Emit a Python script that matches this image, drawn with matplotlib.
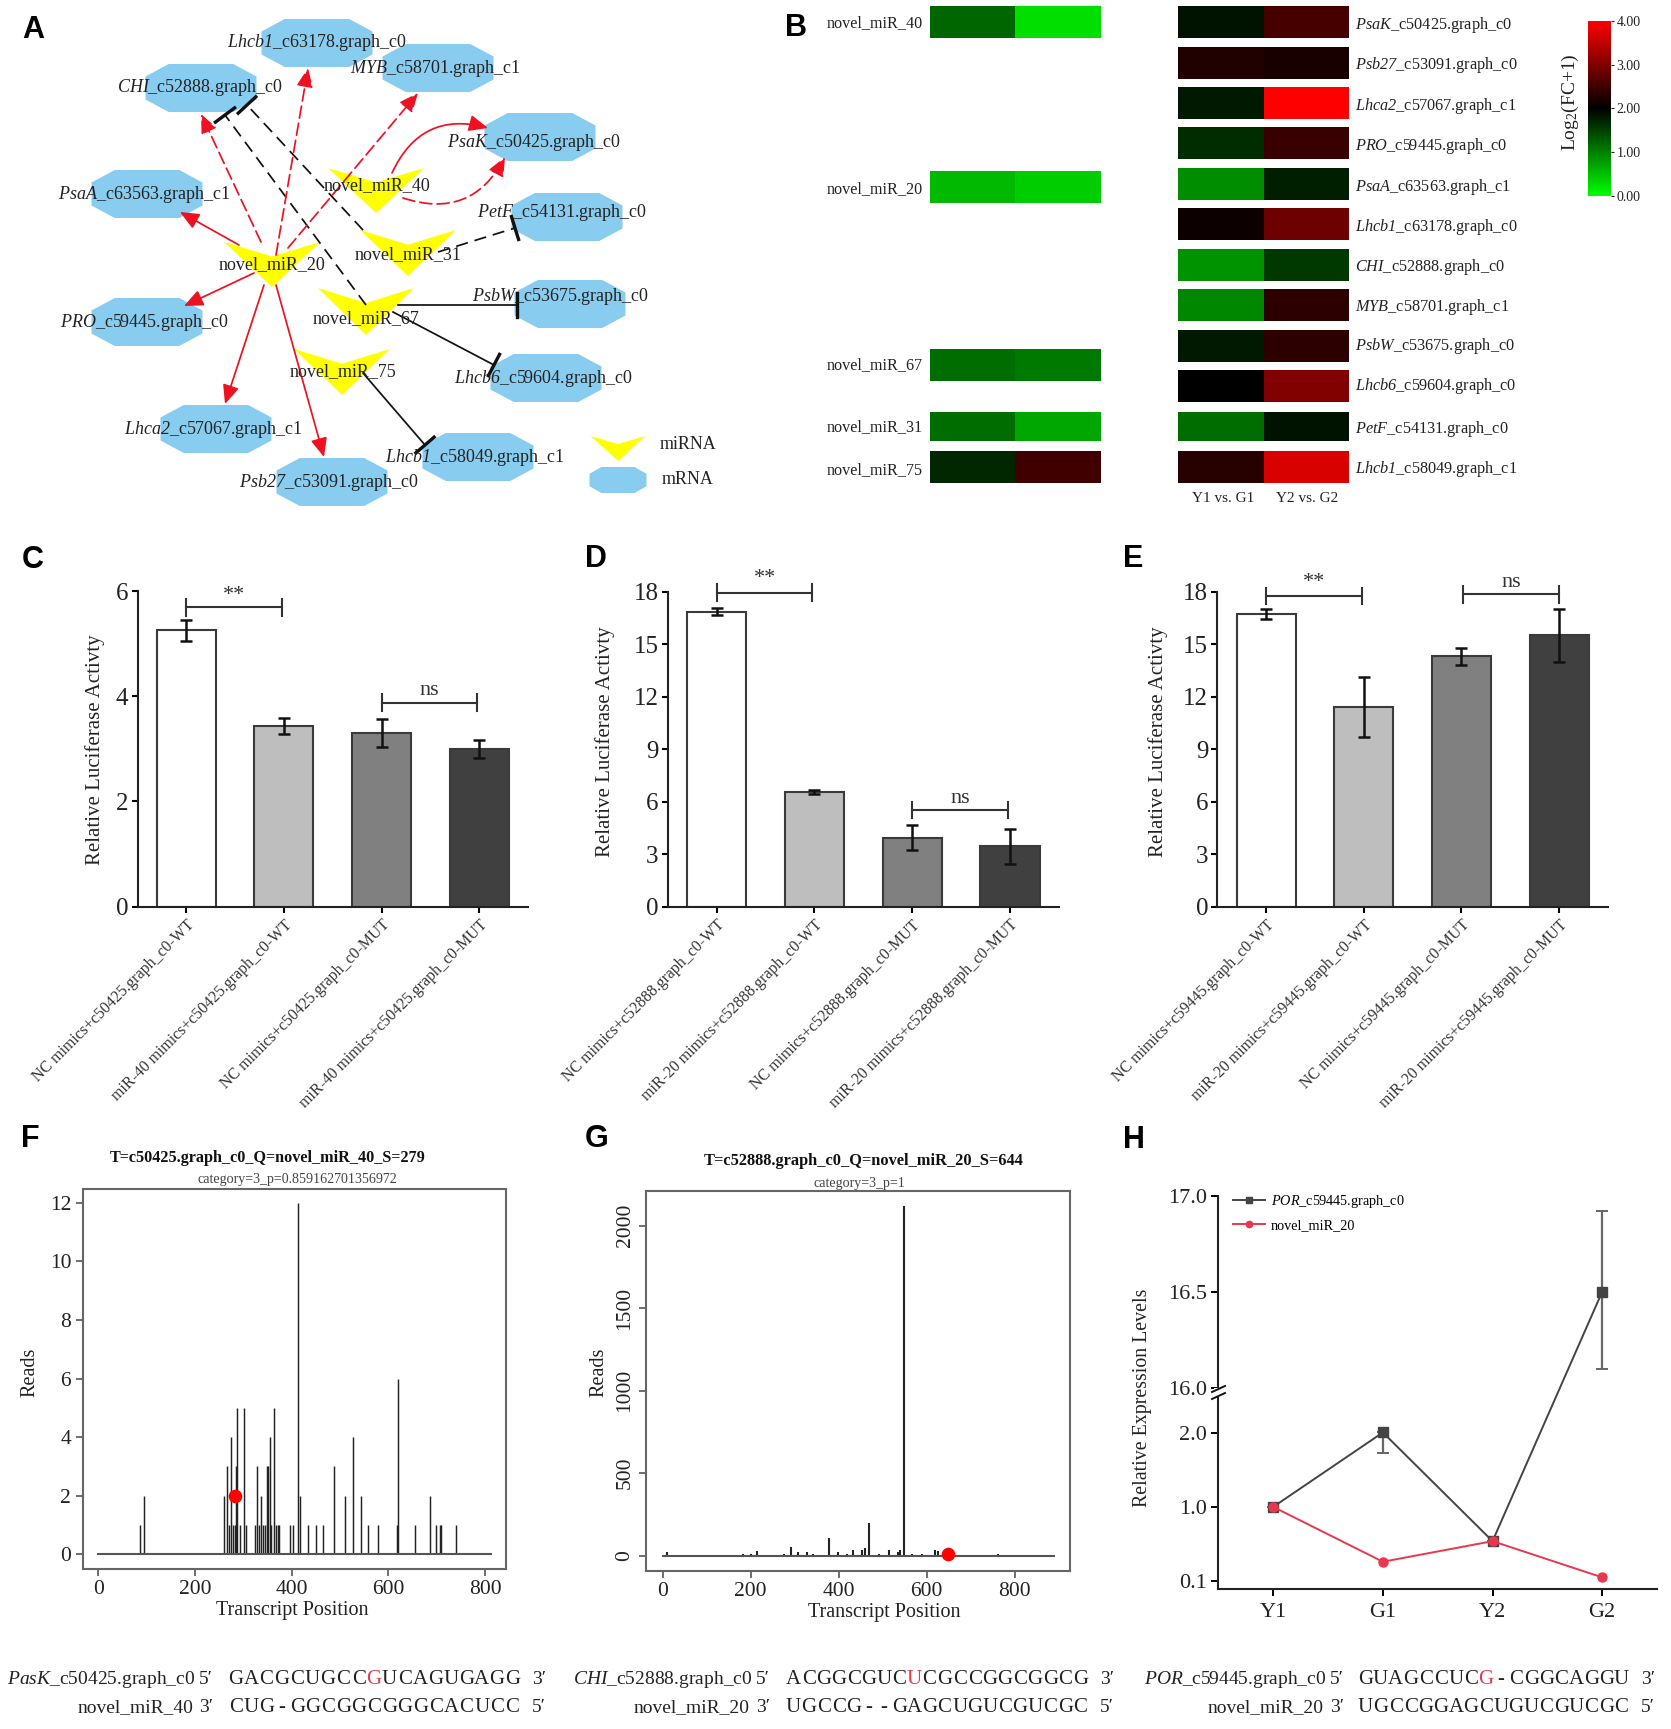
import numpy as np
import matplotlib
matplotlib.use('Agg')
import matplotlib.pyplot as plt
from matplotlib.colors import LinearSegmentedColormap
from matplotlib.patches import Polygon

plt.rcParams['font.family'] = ['Liberation Serif', 'DejaVu Serif']
plt.rcParams['mathtext.fontset'] = 'custom'
plt.rcParams['mathtext.it'] = 'Liberation Serif:italic'
plt.rcParams['mathtext.cal'] = 'Liberation Serif:italic'
plt.rcParams['mathtext.rm'] = 'Liberation Serif'
plt.rcParams['axes.unicode_minus'] = False

W, H = 1671, 1729

# panel A, network
mrna_names = ['Lhcb1', 'MYB', 'CHI', 'PsaK', 'PsaA', 'PetF', 'PsbW', 'PRO', 'Lhcb6', 'Lhca2', 'Lhcb1', 'Psb27']
mrna_ids = ['c63178.graph_c0', 'c58701.graph_c1', 'c52888.graph_c0', 'c50425.graph_c0', 'c63563.graph_c1',
            'c54131.graph_c0', 'c53675.graph_c0', 'c59445.graph_c0', 'c59604.graph_c0', 'c57067.graph_c1',
            'c58049.graph_c1', 'c53091.graph_c0']
mrna_x = [317, 438, 201, 540, 147, 567, 570, 147, 546, 216, 478, 332]
mrna_y = [43, 68, 88, 137, 194, 217, 304, 322, 378, 429, 457, 482]
mrna_label_x = [317, 435, 200, 534, 144, 562, 560, 144, 543, 213, 475, 329]
mrna_label_y = [42, 68, 87, 142, 194, 212, 296, 322, 378, 429, 457, 482]

mir_names = ['novel_miR_40', 'novel_miR_31', 'novel_miR_20', 'novel_miR_67', 'novel_miR_75']
mir_x = [376, 408, 272, 366, 342]
mir_top = [168, 230, 242, 288, 349]
mir_tip = [213, 276, 287, 335, 395]
mir_label_x = [377, 408, 272, 366, 343]
mir_label_y = [186, 255, 265, 319, 372]

red_solid = [(239, 245, 180, 212), (254, 273, 184, 306), (264, 285, 225, 404), (276, 285, 324, 457)]
red_dash = [(261, 242, 201, 114), (276, 255, 308, 68), (288, 248, 418, 93)]
black_dash = [(366, 305, 225, 115), (363, 230, 247, 105), (438, 252, 515, 228)]
black_solid = [(398, 305, 517, 305), (393, 312, 494, 365), (363, 373, 425, 445)]

# panel B, heat map
left_names = ['novel_miR_40', 'novel_miR_20', 'novel_miR_67', 'novel_miR_31', 'novel_miR_75']
left_values = [[1.2, 0.25], [0.55, 0.4], [1.15, 1.05], [1.15, 0.7], [1.7, 2.5]]
left_top = [6, 171, 349, 412, 451]
left_bottom = [38, 203, 381, 441, 483]
left_text_y = [23, 189, 365, 427, 470]

right_names = ['PsaK', 'Psb27', 'Lhca2', 'PRO', 'PsaA', 'Lhcb1', 'CHI', 'MYB', 'PsbW', 'Lhcb6', 'PetF', 'Lhcb1']
right_ids = ['c50425.graph_c0', 'c53091.graph_c0', 'c57067.graph_c1', 'c59445.graph_c0', 'c63563.graph_c1',
             'c63178.graph_c0', 'c52888.graph_c0', 'c58701.graph_c1', 'c53675.graph_c0', 'c59604.graph_c0',
             'c54131.graph_c0', 'c58049.graph_c1']
right_values = [[1.85, 2.55], [2.25, 2.2], [1.8, 4.0], [1.65, 2.45], [0.9, 1.75], [2.1, 2.85],
                [0.85, 1.55], [0.95, 2.35], [1.8, 2.35], [2.0, 3.0], [1.15, 1.85], [2.3, 3.7]]
right_top = [6, 47, 87, 127, 168, 208, 249, 289, 330, 370, 412, 451]
right_bottom = [38, 79, 119, 159, 200, 240, 281, 321, 362, 402, 441, 483]
right_text_y = [25, 65, 106, 146, 187, 227, 267, 307, 346, 386, 429, 469]

# panels C, D, E, bars
bar_colors = ['#FFFFFF', '#BEBEBE', '#808080', '#404040']
c_values = [5.25, 3.43, 3.3, 3.0]
c_errors = [0.2, 0.15, 0.27, 0.17]
d_values = [16.85, 6.55, 3.95, 3.45]
d_errors = [0.2, 0.1, 0.7, 1.0]
e_values = [16.72, 11.4, 14.3, 15.5]
e_errors = [0.3, 1.7, 0.47, 1.5]
c_labels = ['NC mimics+c50425.graph_c0-WT', 'miR-40 mimics+c50425.graph_c0-WT',
            'NC mimics+c50425.graph_c0-MUT', 'miR-40 mimics+c50425.graph_c0-MUT']
d_labels = ['NC mimics+c52888.graph_c0-WT', 'miR-20 mimics+c52888.graph_c0-WT',
            'NC mimics+c52888.graph_c0-MUT', 'miR-20 mimics+c52888.graph_c0-MUT']
e_labels = ['NC mimics+c59445.graph_c0-WT', 'miR-20 mimics+c59445.graph_c0-WT',
            'NC mimics+c59445.graph_c0-MUT', 'miR-20 mimics+c59445.graph_c0-MUT']

# panel F, reads
f_pos = [87, 94.5, 261, 266, 270, 275, 278, 282, 284, 286.5, 293, 302, 305, 325, 329, 332, 337.5, 341, 345, 349,
         352, 355, 358, 364, 367, 371, 374, 396.6, 402.5, 413.6, 417, 433.5, 451, 465, 487, 510, 528, 544, 558,
         579, 618, 621, 655, 686, 699, 706, 708, 740]
f_reads = [1, 2, 2, 3, 1, 4, 1, 1, 3, 5, 1, 5, 1, 1, 3, 1, 2, 1, 1, 3,
           3, 4, 1, 5, 1, 1, 1, 1, 1, 12, 2, 1, 1, 1, 3, 2, 4, 2, 1,
           1, 1, 6, 1, 2, 1, 1, 1, 1]
# panel G, reads
g_pos = [11, 55, 149, 184, 200, 214, 237, 276, 292, 309, 328, 343, 378, 398, 419, 434, 453, 461, 470, 491, 515,
         536, 540, 549, 567, 589, 620, 625, 762]
g_reads = [25, 5, 5, 8, 12, 30, 6, 10, 55, 25, 25, 8, 110, 20, 12, 35, 35, 45, 200, 8, 35,
           25, 35, 2120, 8, 12, 35, 30, 8]

# panel H, expression
h_groups = ['Y1', 'G1', 'Y2', 'G2']
h_por = [1.0, 2.02, 0.585, 16.5]
h_por_err_low = [0, 0.3, 0, 0.4]
h_por_err_high = [0, 0.28, 0, 0.42]
h_mir = [1.0, 0.336, 0.585, 0.147]
h_ticks = [0.1, 1.0, 2.0, 16.0, 16.5, 17.0]

# sequences under F, G, H
seq_rows = [
    ('$\\mathcal{PasK}$_c50425.graph_c0', 'GACGCUGCCGUCAGUGAGG', 'novel_miR_40', 'CUG-GGCGGCGGGCACUCC', 9, 195, 228, 15.38),
    ('$\\mathcal{CHI}$_c52888.graph_c0', 'ACGGCGUCUCGCCGGCGGCG', 'novel_miR_20', 'UGCCG--GAGCUGUCGUCGC', 8, 752, 786, 15.1),
    ('$\\mathcal{POR}$_c59445.graph_c0', 'GUAGCCUCG-CGGCAGGU', 'novel_miR_20', 'UGCCGGAGCUGUCGUCGC', 8, 1326, 1358, 15.06),
]

fig = plt.figure(figsize=(W / 100, H / 100), dpi=100, facecolor='white')


def px_axes(left, top, right, bottom, **kw):
    return fig.add_axes([left / W, 1 - bottom / H, (right - left) / W, (bottom - top) / H], **kw)


# full figure layer in pixels, for the network, the heat map and loose text
page = px_axes(0, 0, W, H)
page.set_xlim(0, W)
page.set_ylim(H, 0)
page.axis('off')
page.set_zorder(5)
page.patch.set_alpha(0)


def octagon(x, y, w=111, h=48, **kw):
    pts = [(-.5, -.24), (-.29, -.5), (.29, -.5), (.5, -.24), (.5, .24), (.29, .5), (-.29, .5), (-.5, .24)]
    page.add_patch(Polygon([(x + a * w, y + b * h) for a, b in pts], closed=True, fc='#88CDF0', ec='none', **kw))


def chevron(x, top, tip, w=96):
    notch = top + (tip - top) * 0.32
    page.add_patch(Polygon([(x - w / 2, top), (x, notch), (x + w / 2, top), (x, tip)], closed=True, fc='#FFFF00', ec='none'))


def arrow(x0, y0, x1, y1, ls='-', rad=0.0):
    page.annotate('', xy=(x1, y1), xytext=(x0, y0),
                  arrowprops=dict(arrowstyle='-|>,head_length=1.15,head_width=0.5', mutation_scale=10, color='#EE1122',
                                  lw=1.25, ls=ls, shrinkA=0, shrinkB=0, connectionstyle='arc3,rad=%g' % rad))


def tee(x0, y0, x1, y1, ls='-'):
    page.plot([x0, x1], [y0, y1], color='#111111', lw=1.25, ls=ls)
    dx, dy = x1 - x0, y1 - y0
    n = np.hypot(dx, dy)
    page.plot([x1 - dy / n * 12, x1 + dy / n * 12], [y1 + dx / n * 12, y1 - dx / n * 12], color='#111111', lw=2.4)


for x, y in zip(mrna_x, mrna_y):
    octagon(x, y)
for x, t, b in zip(mir_x, mir_top, mir_tip):
    chevron(x, t, b)
for e in red_solid:
    arrow(*e)
for e in red_dash:
    arrow(*e, ls=(0, (7, 3)))
arrow(392, 173, 488, 128, rad=-0.42)
arrow(403, 198, 505, 157, ls=(0, (7, 3)), rad=0.42)
for e in black_dash:
    tee(*e, ls=(0, (7, 4)))
for e in black_solid:
    tee(*e)
for name, mid, x, y in zip(mrna_names, mrna_ids, mrna_label_x, mrna_label_y):
    page.text(x, y, '$\\mathcal{%s}$_%s' % (name, mid), ha='center', va='center', fontsize=13, color='#222222')
for name, x, y in zip(mir_names, mir_label_x, mir_label_y):
    page.text(x, y, name, ha='center', va='center', fontsize=13, color='#222222')
chevron(618, 436, 461, w=55)
octagon(618, 480, w=57, h=26)
page.text(660, 444, 'miRNA', va='center', fontsize=13, color='#222222')
page.text(662, 479, 'mRNA', va='center', fontsize=13, color='#222222')

# heat map
gyr = LinearSegmentedColormap.from_list('gyr', ['#00FF00', '#000000', '#FF0000'])
for vals, t, b in zip(left_values, left_top, left_bottom):
    page.pcolormesh([929.5, 1015, 1101], [t, b], [vals], cmap=gyr, vmin=0, vmax=4)
for name, y in zip(left_names, left_text_y):
    page.text(923, y, name, ha='right', va='center', fontsize=11.6, color='#222222')
for vals, t, b in zip(right_values, right_top, right_bottom):
    mesh = page.pcolormesh([1178, 1263.5, 1349], [t, b], [vals], cmap=gyr, vmin=0, vmax=4)
for name, mid, y in zip(right_names, right_ids, right_text_y):
    page.text(1355, y, '$\\mathcal{%s}$_%s' % (name, mid), va='center', fontsize=11.7, color='#222222')
page.text(1223, 498, 'Y1 vs. G1', ha='center', va='center', fontsize=11, color='#222222')
page.text(1307, 498, 'Y2 vs. G2', ha='center', va='center', fontsize=11, color='#222222')
page.set_xlim(0, W)
page.set_ylim(H, 0)

cax = px_axes(1587.5, 20.7, 1610.7, 196)
cb = fig.colorbar(mesh, cax=cax, ticks=[0, 1, 2, 3, 4], format='%.2f')
cb.outline.set_visible(False)
cax.tick_params(labelsize=10, length=2, width=0.8, pad=2, colors='#222222')
page.text(1570, 102, 'Log$_2$(FC+1)', rotation=90, ha='center', va='center', fontsize=14, color='#222222')


def bar_panel(box, values, errors, labels, ymax, yticks, brackets, label_x, label_y):
    ax = px_axes(*box)
    ax.bar(range(4), values, width=0.605, color=bar_colors, edgecolor='#3A3A3A', linewidth=1.5)
    ax.errorbar(range(4), values, yerr=errors, fmt='none', ecolor='#111111', elinewidth=1.8, capsize=4, capthick=1.8)
    ax.set_xlim(-0.5, 3.5)
    ax.set_ylim(0, ymax)
    ax.spines[['top', 'right']].set_visible(False)
    ax.spines[['left', 'bottom']].set_linewidth(1.5)
    ax.spines[['left', 'bottom']].set_color('#222222')
    ax.set_yticks(yticks)
    ax.tick_params(axis='y', labelsize=18, length=4.5, width=1.5, pad=2, labelcolor='#222222')
    ax.set_xticks(range(4))
    ax.set_xticklabels(labels, rotation=45, ha='right', rotation_mode='anchor', fontsize=11.4, color='#333333')
    ax.tick_params(axis='x', length=4.5, width=1.5, pad=3)
    for x0, x1, y, txt, ty in brackets:
        ax.plot([x0, x1], [y, y], color='#333333', lw=1.5, clip_on=False)
        for x in (x0, x1):
            ax.plot([x, x], [y - ymax * 0.026, y + ymax * 0.026], color='#333333', lw=1.5, clip_on=False)
        ax.text((x0 + x1) / 2, ty, txt, ha='center', va='center', fontsize=16, color='#333333', clip_on=False)
    page.text(label_x, label_y, 'Relative Luciferase Activty', rotation=90, ha='center', va='center', fontsize=15, color='#222222')


bar_panel((137.5, 591, 528, 906.7), c_values, c_errors, c_labels, 6, [0, 2, 4, 6],
          [(0, 0.98, 5.69, '**', 5.92), (2, 2.98, 3.88, 'ns', 4.1)], 94.6, 750)
bar_panel((667.7, 591.7, 1059, 906.7), d_values, d_errors, d_labels, 18, [0, 3, 6, 9, 12, 15, 18],
          [(0, 0.98, 17.95, '**', 18.75), (2, 2.98, 5.52, 'ns', 6.2)], 605, 742)
bar_panel((1217.3, 591.7, 1608, 906.7), e_values, e_errors, e_labels, 18, [0, 3, 6, 9, 12, 15, 18],
          [(0, 0.98, 17.75, '**', 18.5), (2.02, 3, 17.85, 'ns', 18.5)], 1158, 742)


def reads_panel(box, xlim, ylim, pos, reads, dot, yticks, rotate, lw):
    ax = px_axes(*box)
    ax.vlines(pos, 0, reads, color='#222222', lw=lw)
    ax.plot(xlim[2], [0, 0], color='#555555', lw=1.5)
    ax.plot(*dot, 'o', color='#FF0000', ms=8.8, zorder=5)
    ax.set_xlim(xlim[0], xlim[1])
    ax.set_ylim(ylim)
    ax.set_xticks([0, 200, 400, 600, 800])
    ax.set_yticks(yticks)
    for s in ax.spines.values():
        s.set_color('#666666')
        s.set_linewidth(1.5)
    ax.tick_params(length=5, width=1.2, color='#555555', labelsize=15.5, labelcolor='#222222')
    if rotate:
        ax.tick_params(axis='y', labelrotation=90)
        for t in ax.get_yticklabels():
            t.set_va('center')
    return ax


reads_panel((83, 1189, 506, 1568.6), (-31.4, 843.4, [0, 812]), (-0.49, 12.47), f_pos, f_reads, (283, 2),
            [0, 2, 4, 6, 8, 10, 12], False, 1.05)
reads_panel((646.4, 1191, 1070, 1570.5), (-36.6, 926, [0, 890]), (-89.6, 2210), g_pos, g_reads, (648, 8),
            [0, 500, 1000, 1500, 2000], True, 1.5)

page.text(268, 1158, 'T=c50425.graph_c0_Q=novel_miR_40_S=279', ha='center', va='center', fontsize=11.7, fontweight='bold', color='#111111')
page.text(297, 1180, 'category=3_p=0.859162701356972', ha='center', va='center', fontsize=10.1, color='#444444')
page.text(864, 1161, 'T=c52888.graph_c0_Q=novel_miR_20_S=644', ha='center', va='center', fontsize=11.8, fontweight='bold', color='#111111')
page.text(859, 1184, 'category=3_p=1', ha='center', va='center', fontsize=10.1, color='#444444')
for x, y in [(292, 1611), (884, 1613)]:
    page.text(x, y, 'Transcript Position', ha='center', va='center', fontsize=14.5, color='#222222')
for x in (30, 599):
    page.text(x, 1372, 'Reads', rotation=90, ha='center', va='center', fontsize=14.5, color='#222222')

# panel H, one axes with a broken scale
h_v = [-0.8, 0.1, 1.0, 2.0, 16.0, 17.0, 18.0]
h_p = [-1.0, 0.0, 1.0, 2.0, 2.60, 5.185, 7.77]
axh = px_axes(1218.4, 1195.7, 1657, 1589)
axh.set_yscale('function', functions=(lambda v: np.interp(v, h_v, h_p), lambda p: np.interp(p, h_p, h_v)))
axh.errorbar(range(4), h_por, yerr=[h_por_err_low, h_por_err_high], fmt='none', ecolor='#666666', elinewidth=1.6, capsize=4, capthick=1.4)
axh.plot(range(4), h_por, '-s', color='#444444', lw=1.4, ms=6.5, label='$\\mathcal{POR}$_c59445.graph_c0')
axh.plot(range(4), h_mir, '-o', color='#E8384F', lw=1.4, ms=6.5, label='novel_miR_20')
axh.set_xlim(-0.5, 3.5)
axh.set_ylim(0.006, 17)
axh.set_yticks(h_ticks)
axh.set_yticklabels(['%.1f' % t for t in h_ticks])
axh.minorticks_off()
axh.set_xticks(range(4))
axh.set_xticklabels(h_groups)
axh.spines[['top', 'right']].set_visible(False)
axh.spines[['left', 'bottom']].set_linewidth(1.5)
axh.spines[['left', 'bottom']].set_color('#222222')
axh.tick_params(labelsize=16, length=5, width=1.4, labelcolor='#222222', pad=3)
axh.tick_params(axis='x', labelsize=16, pad=5)
axh.legend(loc='upper left', bbox_to_anchor=(1226 / W, 1 - 1186 / H), bbox_transform=fig.transFigure, frameon=False,
           fontsize=10.3, handlelength=2.25, handletextpad=0.4, labelspacing=0.62, borderpad=0, markerscale=0.7)
page.text(1142, 1398, 'Relative Expression Levels', rotation=90, ha='center', va='center', fontsize=14.3, color='#222222')
# axis break
page.fill_between([1214, 1223], 1387.5, 1396, color='white', lw=0)
page.plot([1212, 1225], [1392, 1386], color='#111111', lw=1.4)
page.plot([1212, 1225], [1399, 1393], color='#111111', lw=1.4)

# sequences
for top_name, top_seq, low_name, low_seq, red, name_x, seq_x, step in seq_rows:
    page.text(name_x, 1680, top_name, ha='right', va='center', fontsize=14, color='#222222')
    page.text(name_x - 2, 1708, low_name, ha='right', va='center', fontsize=14, color='#222222')
    page.text(name_x + 4, 1680, "5\u2032", va='center', fontsize=14, color='#222222')
    page.text(name_x + 4, 1708, "3\u2032", va='center', fontsize=14, color='#222222')
    end_x = seq_x + step * len(top_seq) + 12
    page.text(end_x, 1680, "3\u2032", va='center', fontsize=14, color='#222222')
    page.text(end_x, 1708, "5\u2032", va='center', fontsize=14, color='#222222')
    for i, ch in enumerate(top_seq):
        page.text(seq_x + step * (i + 0.5), 1680, ch, ha='center', va='center', fontsize=15,
                  color='#E8384F' if i == red else '#222222')
    for i, ch in enumerate(low_seq):
        page.text(seq_x + step * (i + 0.5), 1708, ch, ha='center', va='center', fontsize=15, color='#222222')

# panel letters
for letter, x, y in [('A', 33, 30), ('B', 796, 28), ('C', 33, 560), ('D', 596, 559), ('E', 1133, 559),
                     ('F', 30, 1139), ('G', 597, 1139), ('H', 1134, 1140)]:
    page.text(x, y, letter, ha='center', va='center', fontsize=22, fontweight='bold', family='Liberation Sans', color='black')

fig.savefig('out.png', dpi=100)
